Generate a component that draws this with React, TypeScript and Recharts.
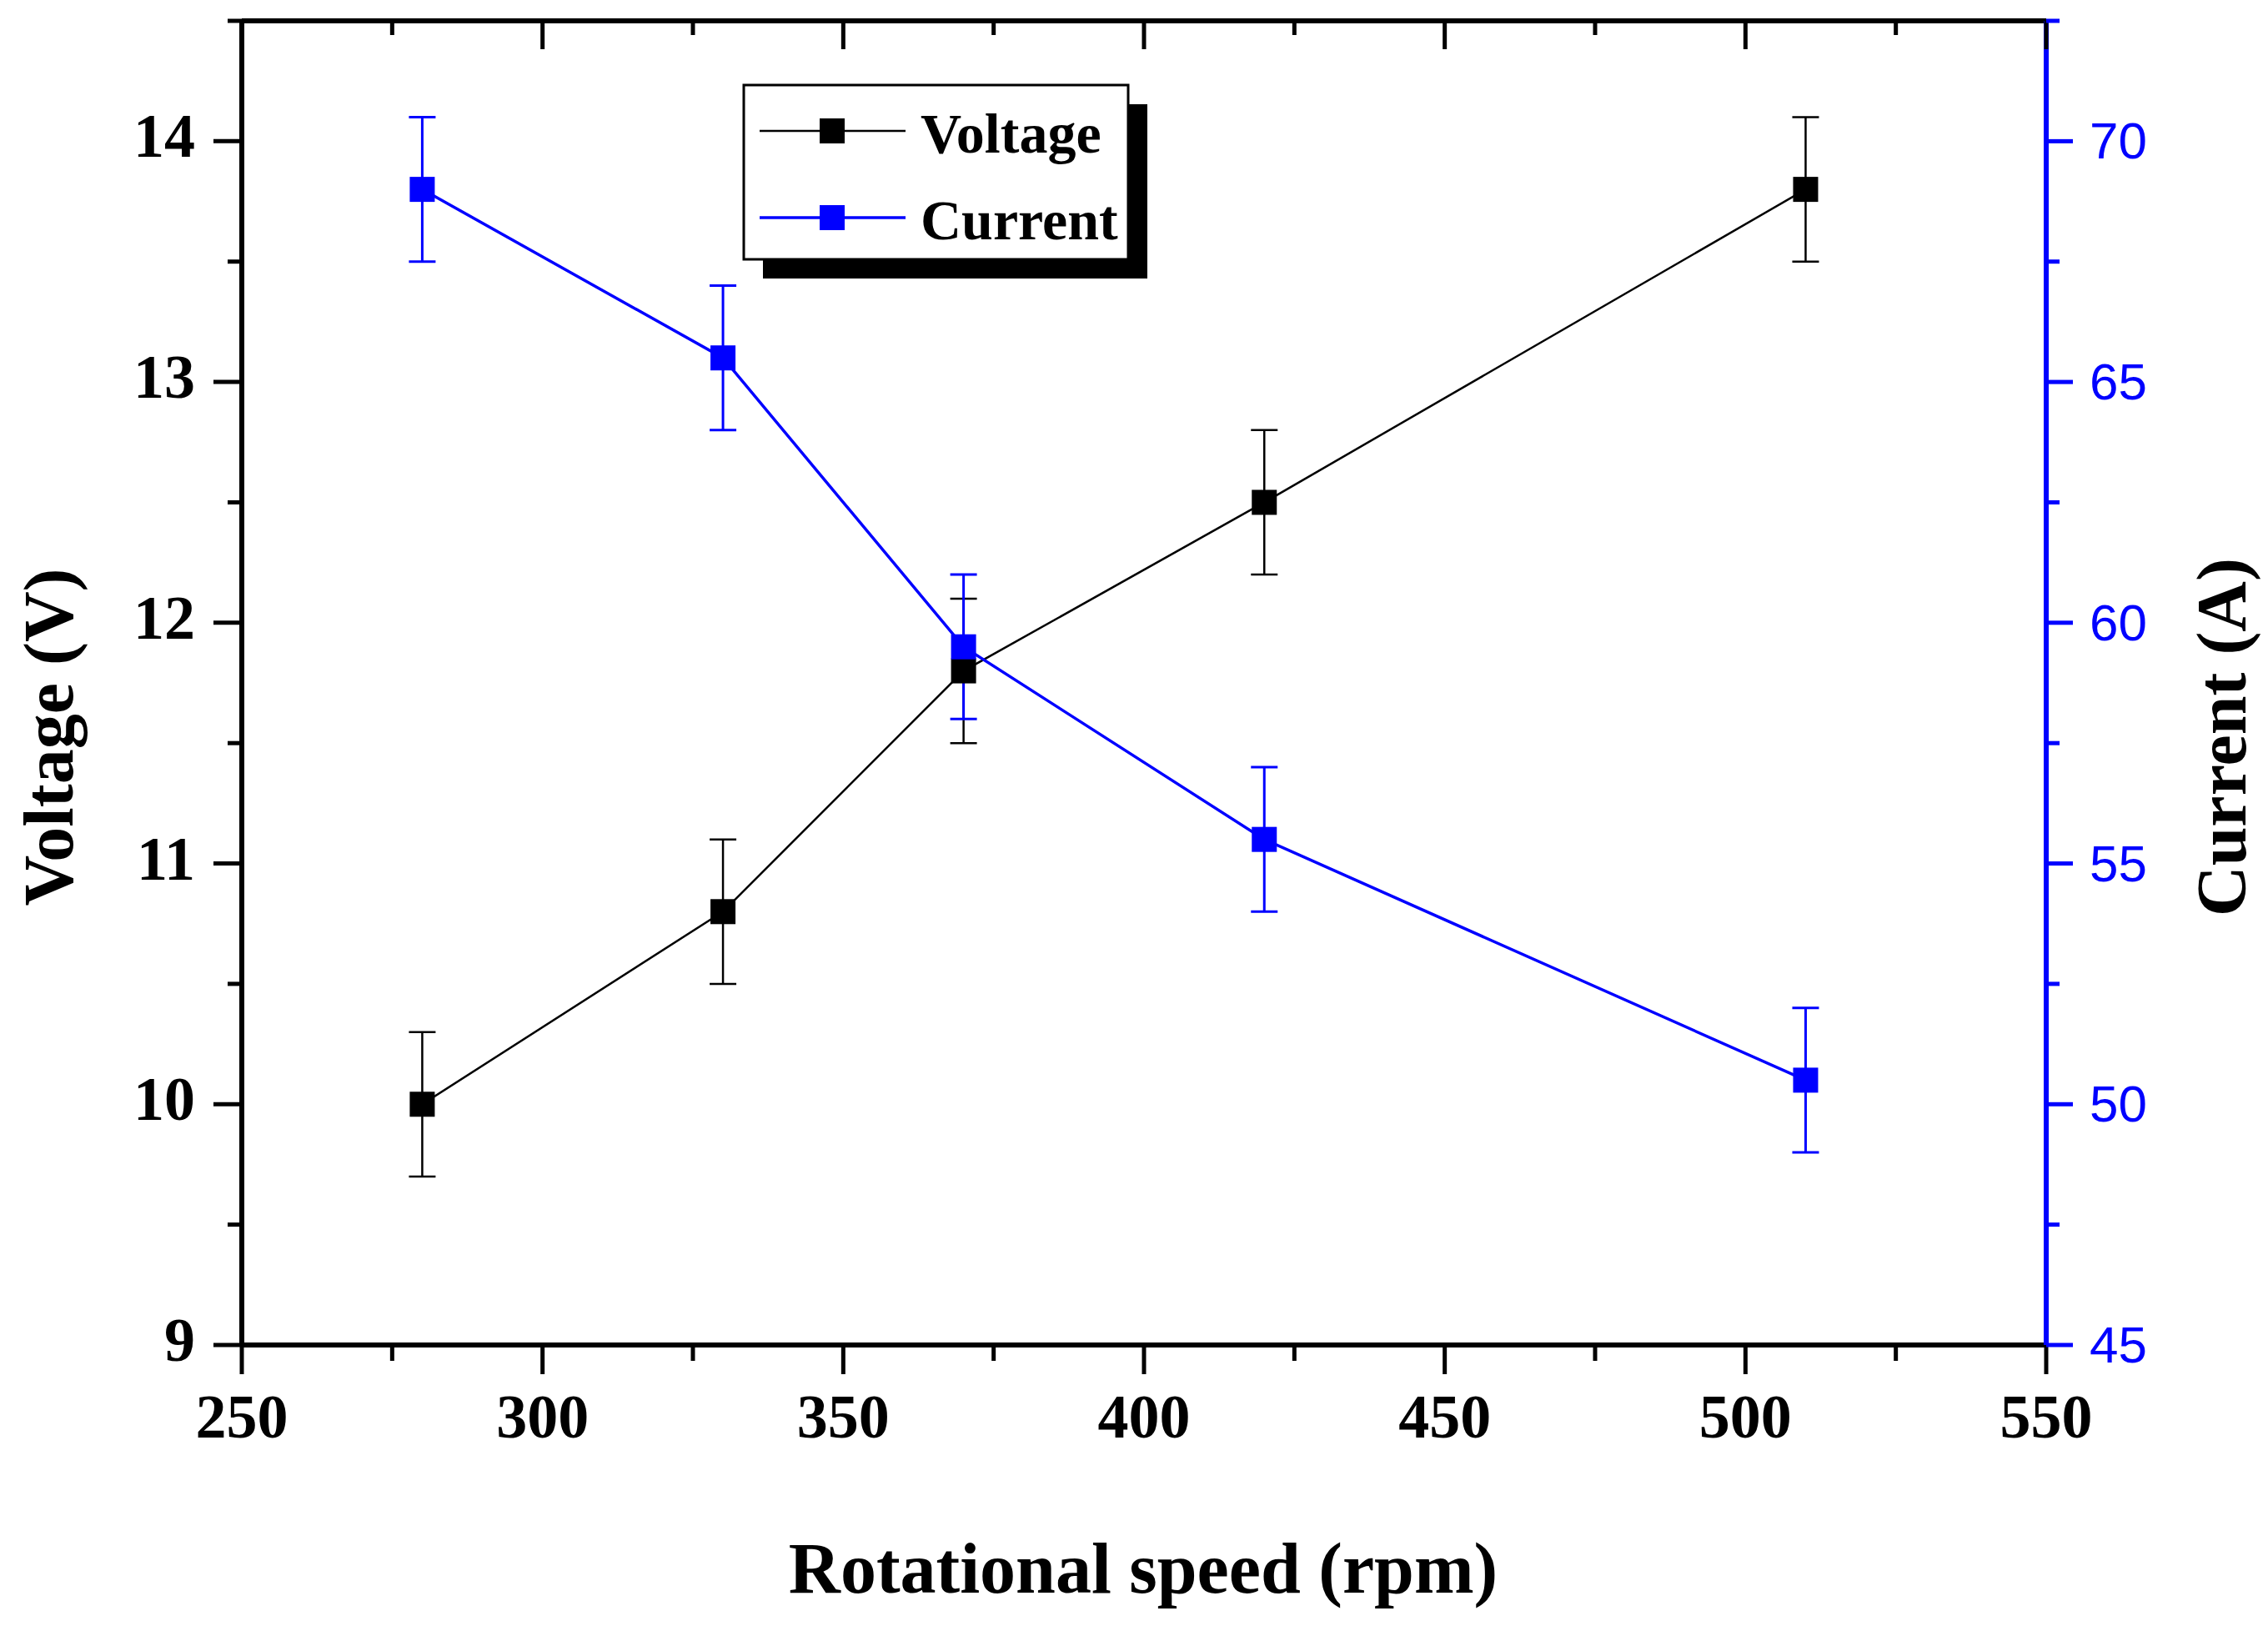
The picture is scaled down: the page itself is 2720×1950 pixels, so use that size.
import React from 'react';
import { ComposedChart, Line, XAxis, YAxis, ErrorBar, Legend, Label } from 'recharts';

const speeds = [280, 330, 370, 420, 510];
const voltage = [10.0, 10.8, 11.8, 12.5, 13.8];
const voltageErr = [0.3, 0.3, 0.3, 0.3, 0.3];
const current = [69.0, 65.5, 59.5, 55.5, 50.5];
const currentErr = [1.5, 1.5, 1.5, 1.5, 1.5];

const xMajorTicks = [250, 300, 350, 400, 450, 500, 550];
const xMinorTicks = [275, 325, 375, 425, 475, 525];
const voltageMajorTicks = [9, 10, 11, 12, 13, 14];
const voltageMinorTicks = [9.5, 10.5, 11.5, 12.5, 13.5, 14.5];
const currentMajorTicks = [45, 50, 55, 60, 65, 70];
const currentMinorTicks = [47.5, 52.5, 57.5, 62.5, 67.5, 72.5];

const seriesNames = ['Voltage', 'Current'];
const xTitle = 'Rotational speed (rpm)';
const yLeftTitle = 'Voltage (V)';
const yRightTitle = 'Current (A)';

const data = speeds.map((s, i) => ({
  speed: s,
  voltage: voltage[i],
  voltageErr: voltageErr[i],
  current: current[i],
  currentErr: currentErr[i],
}));

const xTicks = [...xMajorTicks, ...xMinorTicks].sort((a, b) => a - b);
const vTicks = [...voltageMajorTicks, ...voltageMinorTicks].sort((a, b) => a - b);
const cTicks = [...currentMajorTicks, ...currentMinorTicks].sort((a, b) => a - b);

const SERIF = '"Liberation Serif", "Times New Roman", serif';
const SANS = '"Liberation Sans", Arial, sans-serif';
const BLUE = '#0000ff';
const BLACK = '#000000';

const isMajor = (list: number[], v: number) => list.some((t) => Math.abs(t - v) < 1e-6);

const BottomTick = (props: any) => {
  const { x, y, payload } = props;
  const major = isMajor(xMajorTicks, payload.value);
  return (
    <g>
      <line x1={x} x2={x} y1={y} y2={y + (major ? 35 : 19)} stroke={BLACK} strokeWidth={5} />
      {major && (
        <text x={x} y={y + 111} textAnchor="middle" fontFamily={SERIF} fontWeight="bold" fontSize={74} fill={BLACK}>
          {payload.value}
        </text>
      )}
    </g>
  );
};

const TopTick = (props: any) => {
  const { x, y, payload } = props;
  const major = isMajor(xMajorTicks, payload.value);
  return (
    <g>
      <line x1={x} x2={x} y1={y} y2={y + (major ? 34 : 17)} stroke={BLACK} strokeWidth={5} />
    </g>
  );
};

const LeftTick = (props: any) => {
  const { x, y, payload } = props;
  const major = isMajor(voltageMajorTicks, payload.value);
  return (
    <g>
      <line x1={x} x2={x - (major ? 34 : 17)} y1={y} y2={y} stroke={BLACK} strokeWidth={5} />
      {major && (
        <text x={x - 56} y={y + 19} textAnchor="end" fontFamily={SERIF} fontWeight="bold" fontSize={74} fill={BLACK}>
          {payload.value}
        </text>
      )}
    </g>
  );
};

const RightTick = (props: any) => {
  const { x, y, payload } = props;
  const major = isMajor(currentMajorTicks, payload.value);
  return (
    <g>
      <line x1={x} x2={x + (major ? 32 : 16)} y1={y} y2={y} stroke={BLUE} strokeWidth={5} />
      {major && (
        <text x={x + 52} y={y + 21} textAnchor="start" fontFamily={SANS} fontSize={62} fill={BLUE}>
          {payload.value}
        </text>
      )}
    </g>
  );
};

const squareDot = (color: string) => (props: any) => {
  const { cx, cy, index } = props;
  if (cx == null || cy == null) return <g key={`e-${index}`} />;
  return <rect key={`d-${index}`} x={cx - 15} y={cy - 15} width={30} height={30} fill={color} />;
};

const XTitle = () => (
  <text x={1363} y={1902} textAnchor="middle" fontFamily={SERIF} fontWeight="bold" fontSize={86} fill={BLACK}>
    {xTitle}
  </text>
);

const YLeftTitle = () => (
  <text
    x={79}
    y={876}
    transform="rotate(-90 79 876)"
    textAnchor="middle"
    fontFamily={SERIF}
    fontWeight="bold"
    fontSize={84}
    fill={BLACK}
  >
    {yLeftTitle}
  </text>
);

const YRightTitle = () => (
  <text
    x={2685}
    y={876}
    transform="rotate(-90 2685 876)"
    textAnchor="middle"
    fontFamily={SERIF}
    fontWeight="bold"
    fontSize={84}
    fill={BLACK}
  >
    {yRightTitle}
  </text>
);

const legendColors = [BLACK, BLUE];
const legendWidths = [2.5, 3.5];

const LegendBox = () => (
  <svg width={510} height={260} style={{ display: 'block' }}>
    <rect x={27} y={27} width={461} height={209} fill={BLACK} />
    <rect x={4} y={4} width={461} height={209} fill="#ffffff" stroke={BLACK} strokeWidth={3} />
    {seriesNames.map((name, i) => {
      const cy = i === 0 ? 59 : 163;
      return (
        <g key={name}>
          <line x1={23} x2={198} y1={cy} y2={cy} stroke={legendColors[i]} strokeWidth={legendWidths[i]} />
          <rect x={95} y={cy - 15} width={30} height={30} fill={legendColors[i]} />
          <text x={216} y={cy + 26} fontFamily={SERIF} fontWeight="bold" fontSize={68} fill={BLACK}>
            {name}
          </text>
        </g>
      );
    })}
  </svg>
);

export default function App() {
  return (
    <div style={{ width: 2704, height: 1934 }}>
      <ComposedChart
        width={2704}
        height={1934}
        data={data}
        margin={{ top: 7, right: 58, bottom: 129, left: 82 }}
      >
        <XAxis
          xAxisId="bottom"
          orientation="bottom"
          dataKey="speed"
          type="number"
          domain={[250, 550]}
          ticks={xTicks}
          interval={0}
          tickSize={0}
          tickMargin={0}
          tickLine={false}
          tick={BottomTick}
          axisLine={{ stroke: BLACK, strokeWidth: 6 }}
          height={200}
        >
          <Label content={XTitle} />
        </XAxis>
        <XAxis
          xAxisId="top"
          orientation="top"
          dataKey="speed"
          type="number"
          domain={[250, 550]}
          ticks={xTicks}
          interval={0}
          tickSize={0}
          tickMargin={0}
          tickLine={false}
          tick={TopTick}
          axisLine={{ stroke: BLACK, strokeWidth: 6 }}
          height={10}
        />
        <YAxis
          yAxisId="left"
          orientation="left"
          type="number"
          domain={[9, 14.5]}
          ticks={vTicks}
          interval={0}
          tickSize={0}
          tickMargin={0}
          tickLine={false}
          tick={LeftTick}
          axisLine={{ stroke: BLACK, strokeWidth: 6 }}
          width={200}
        >
          <Label content={YLeftTitle} />
        </YAxis>
        <YAxis
          yAxisId="right"
          orientation="right"
          type="number"
          domain={[45, 72.5]}
          ticks={cTicks}
          interval={0}
          tickSize={0}
          tickMargin={0}
          tickLine={false}
          tick={RightTick}
          axisLine={{ stroke: BLUE, strokeWidth: 6 }}
          width={200}
        >
          <Label content={YRightTitle} />
        </YAxis>
        <Line
          xAxisId="bottom"
          yAxisId="left"
          type="linear"
          dataKey="voltage"
          name={seriesNames[0]}
          stroke={BLACK}
          strokeWidth={2.5}
          dot={squareDot(BLACK)}
          activeDot={false}
          isAnimationActive={false}
        >
          <ErrorBar dataKey="voltageErr" direction="y" width={16} stroke={BLACK} strokeWidth={2.5} isAnimationActive={false} />
        </Line>
        <Line
          xAxisId="bottom"
          yAxisId="right"
          type="linear"
          dataKey="current"
          name={seriesNames[1]}
          stroke={BLUE}
          strokeWidth={3.5}
          dot={squareDot(BLUE)}
          activeDot={false}
          isAnimationActive={false}
        >
          <ErrorBar dataKey="currentErr" direction="y" width={16} stroke={BLUE} strokeWidth={3} isAnimationActive={false} />
        </Line>
        <Legend
          content={LegendBox}
          layout="horizontal"
          verticalAlign="middle"
          align="center"
          wrapperStyle={{ position: 'absolute', left: 880, top: 90, width: 510, height: 260, margin: 0, padding: 0 }}
        />
      </ComposedChart>
    </div>
  );
}
